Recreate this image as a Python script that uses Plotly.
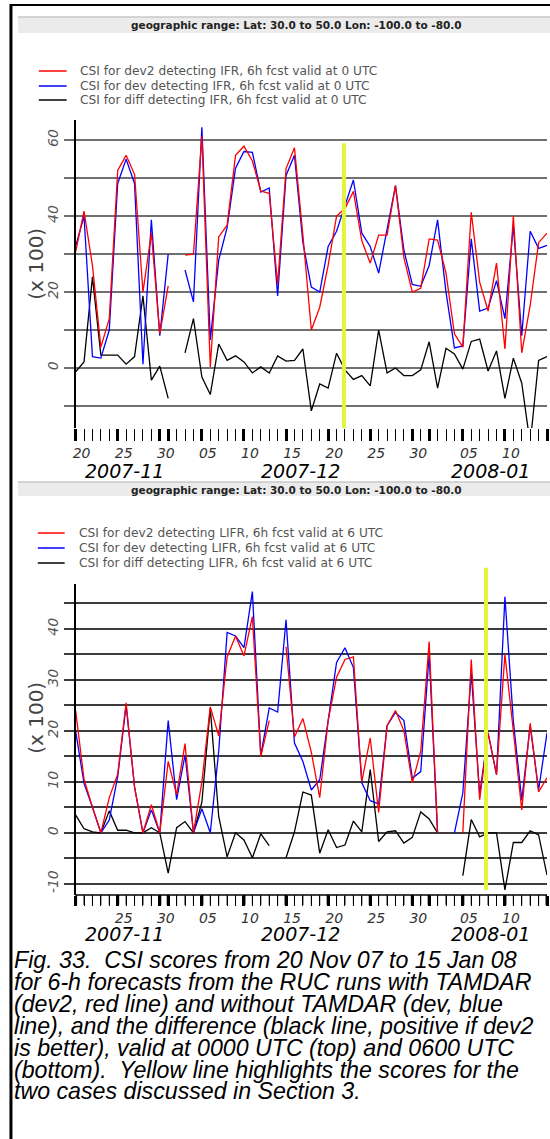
import pandas as pd
import plotly.graph_objects as go

W, H = 550, 1139

# daily scores, 20 Nov 2007 .. 15 Jan 2008
dates = pd.date_range("2007-11-20", "2008-01-15", freq="D")

# top panel: IFR, 6h fcst valid at 0 UTC (CSI x 100)
ifr_dev2 = [30.5, 41.3, 27, 5.5, 13, 52, 56, 51, 20, 35.5, 9, 21.6, None, 29.7, 30,
            61, 0.3, 34.5, 37.6, 56, 58.4, 54.5, 46.6, 46, 22, 52.5, 58, 35, 10, 16,
            27, 40, 42, 46.5, 33.5, 27.6, 35, 35, 48, 29, 20, 21, 34, 33.7, 25,
            9, 5.5, 41, 22.6, 15, 27.6, 5, 40, 4, 16.5, 33, 35.5]
ifr_dev = [32, 40, 3, 2.6, 10, 48.6, 55, 48.6, 1, 39, 8.5, 30, None, 25.8, 17.4,
           63.4, 7.4, 28.4, 37, 52.6, 57, 56.8, 46.3, 47.4, 19, 50.7, 56, 33, 21.3, 20,
           32, 36, 42.5, 49.5, 35.5, 32, 25, 36.3, 48, 31, 22, 21.5, 27, 39, 20,
           5.3, 5.8, 34, 15, 15.8, 23, 13, 37.5, 8.5, 36, 31.5, 32.3]
ifr_diff = [-1, 1.6, 24, 3.4, 3.4, 3.4, 1, 3, 19, -3.2, 0.5, -8, None, 4, 13,
            -2.4, -7, 6.3, 2, 3.2, 1.6, -1.3, 0.3, -1.3, 3.2, 1.8, 2, 5, -11.3, -4.2,
            -5.3, 3.9, -0.5, -3, -2, -4.7, 10, -1.3, 0, -2, -2, -0.5, 6.9, -5.3, 5.2,
            3.7, -0.3, 7, 7.6, -0.8, 4.5, -8, 2.6, -4, -20, 2, 3]

# bottom panel: LIFR, 6h fcst valid at 6 UTC (CSI x 100)
lifr_dev2 = [24, 10.5, 5, 0, 6.9, 11.5, 25.5, 9, 0, 5.5, 0, 14, 7.5, 17.5, 0,
             10, 24.7, 19, 34.5, 38.6, 34.7, 42.4, 15, 22, None, 36.5, 18.8, 22.4, 15.8, 6.9,
             22, 30.5, 34, 34.5, 10, 18.6, 4, 21, 24, 20, 9.8, 16, 37.5, 0, None,
             None, 0, 34, 6.5, 19.6, 11.4, 35, 20, 4.5, 21.5, 8, 10.8]
lifr_dev = [20, 9.7, 5, 0, 2.5, 11, 25, 9, 0, 4.5, 0, 22, 6.5, 15.3, 0,
            4.7, 0, 16, 39.3, 38.6, 36.3, 47.3, 15.2, 24.5, 23.7, 41.8, 17.6, 14, 8.4, 10.4,
            22, 33.4, 36.3, 32.4, 9.8, 6.3, 5.7, 21, 23.6, 22, 10.7, 12, 35, 0, None,
            0, 7.8, 31.4, 7.5, 19.6, 11.4, 46.3, 21.9, 6.4, 21, 8.4, 19.6]
lifr_diff = [3.5, 0.8, 0.2, 0, 4.3, 0.5, 0.5, 0, 0, 1, 0, -7.9, 1, 2.2, 0,
             6, 24.5, 3.2, -4.7, 0, -1.4, -4.9, -0.2, -2.5, None, -4.9, 0.2, 8, 7.4, -4,
             0.6, -2.9, -2.4, 2.3, 0.2, 12.4, -1.7, 0.2, 0.4, -2, -0.9, 4.1, 2.7, 0, None,
             None, -8.4, 2.6, -0.8, 0, 0, -11.2, -1.9, -1.9, 0.4, -0.4, -8.3]

# the two cases from Section 3 (yellow lines)
case_times = ["2007-12-21 21:00", "2008-01-07 18:00"]

tick_days = ["2007-11-20", "2007-11-25", "2007-11-30", "2007-12-01", "2007-12-05",
             "2007-12-10", "2007-12-15", "2007-12-20", "2007-12-25", "2007-12-30",
             "2008-01-01", "2008-01-05", "2008-01-10", "2008-01-15"]
tick_text_top = ["20", "25", "30", "", "05", "10", "15", "20", "25", "30", "", "05", "10", ""]
tick_text_bot = ["", "25", "30", "", "05", "10", "15", "20", "25", "30", "", "05", "10", ""]
month_labels = ["2007-11", "2007-12", "2008-01"]

legend_top = ["CSI for dev2 detecting IFR, 6h fcst valid at 0 UTC",
              "CSI for dev detecting IFR, 6h fcst valid at 0 UTC",
              "CSI for diff detecting IFR, 6h fcst valid at 0 UTC"]
legend_bot = ["CSI for dev2 detecting LIFR, 6h fcst valid at 6 UTC",
              "CSI for dev detecting LIFR, 6h fcst valid at 6 UTC",
              "CSI for diff detecting LIFR, 6h fcst valid at 6 UTC"]
colors = ["#ff0000", "#0000ff", "#000000"]

caption = ["Fig. 33.&nbsp; CSI scores from 20 Nov 07 to 15 Jan 08",
           "for 6-h forecasts from the RUC runs with TAMDAR",
           "(dev2, red line) and without TAMDAR (dev, blue",
           "line), and the difference (black line, positive if dev2",
           "is better), valid at 0000 UTC (top) and 0600 UTC",
           "(bottom).&nbsp; Yellow line highlights the scores for the",
           "two cases discussed in Section 3."]

header = "geographic range: Lat: 30.0 to 50.0 Lon: -100.0 to -80.0"

X_RANGE = ["2007-11-20", "2008-01-15"]
Y_TOP = [-15.8, 65.3]
Y_BOT = [-12.2, 48.8]
DAY_MS = 86400000


def px_x(x):
    return x / W


def px_y(y):
    return 1 - y / H


def note(text, x, y, size, color="black", family="DejaVu Sans", style="normal",
         xanchor="center", angle=0):
    return dict(text=text, xref="paper", yref="paper", x=px_x(x), y=px_y(y),
                xanchor=xanchor, yanchor="middle", showarrow=False, textangle=angle,
                font=dict(family=family, size=size, color=color, style=style))


def x_axis(anchor, ticktext, ticklen):
    return dict(
        domain=[px_x(73), px_x(547)], anchor=anchor, type="date", range=X_RANGE,
        tickvals=tick_days, ticktext=ticktext, ticks="outside", ticklen=ticklen,
        tickwidth=3, tickcolor="black", ticklabelshift=6,
        tickfont=dict(family="DejaVu Sans", size=14, color="#333", style="italic"),
        minor=dict(dtick=DAY_MS, tick0="2007-11-20", ticks="outside", ticklen=ticklen,
                   tickwidth=1, tickcolor="black", showgrid=False),
        showgrid=False, zeroline=False, showline=False,
    )


def y_axis(anchor, domain, rng, vals, labelled, gridcolor, gridwidth):
    return dict(
        domain=domain, anchor=anchor, range=rng, tickvals=vals,
        ticktext=[str(v) if v in labelled else "" for v in vals],
        ticks="outside", ticklen=10, tickcolor=gridcolor, tickwidth=gridwidth,
        tickangle=-90,
        tickfont=dict(family="DejaVu Sans", size=14, color="#555", style="italic"),
        showgrid=True, gridcolor=gridcolor, gridwidth=gridwidth, zeroline=False,
        showline=True, linecolor="black", linewidth=1.5,
    )


fig = go.Figure()

panels = [
    ("x", "y", [ifr_diff, ifr_dev, ifr_dev2]),
    ("x2", "y2", [lifr_diff, lifr_dev, lifr_dev2]),
]
for xa, ya, series in panels:
    for vals, col in zip(series, ["#000000", "#0000ff", "#ff0000"]):
        fig.add_trace(go.Scatter(
            x=dates, y=vals, mode="lines", xaxis=xa, yaxis=ya,
            line=dict(color=col, width=1.3), connectgaps=False,
            showlegend=False, hoverinfo="skip",
        ))

shapes = []
annotations = []

# frame border
shapes.append(dict(type="line", xref="paper", yref="paper", x0=px_x(8), x1=px_x(8),
                   y0=px_y(4), y1=0, line=dict(color="black", width=3)))
shapes.append(dict(type="line", xref="paper", yref="paper", x0=px_x(7), x1=1,
                   y0=px_y(5), y1=px_y(5), line=dict(color="black", width=2)))

# bottom panel has a base line along its x axis, with a day-tick comb under it
shapes.append(dict(type="line", xref="x2 domain", yref="y2 domain", x0=0, x1=1,
                   y0=0, y1=0, line=dict(color="black", width=1.5)))
major_days = set(pd.to_datetime(tick_days))
comb_len = 10 / (895 - 584)
for d in dates:
    shapes.append(dict(type="line", xref="x2", yref="y2 domain", x0=d, x1=d,
                       y0=0, y1=-comb_len,
                       line=dict(color="black", width=3 if d in major_days else 1)))

# header bars
for top, bot, ty in [(17, 33, 25), (482, 496, 490)]:
    shapes.append(dict(type="rect", xref="paper", yref="paper", x0=px_x(15), x1=1,
                       y0=px_y(bot), y1=px_y(top), fillcolor="#ebebeb",
                       line=dict(width=0), layer="below"))
    shapes.append(dict(type="line", xref="paper", yref="paper", x0=px_x(15), x1=1,
                       y0=px_y(top), y1=px_y(top), line=dict(color="#c8c8c8", width=1.5)))
    annotations.append(note("<b>" + header + "</b>", 295, ty, 10.5, color="#222"))

# legends
for labels, rows, x0, x1, xt in [(legend_top, [71, 86, 100], 36, 64, 75),
                                 (legend_bot, [533, 548, 563], 35, 62, 74)]:
    for lab, row, col in zip(labels, rows, colors):
        shapes.append(dict(type="line", xref="paper", yref="paper", x0=px_x(x0), x1=px_x(x1),
                           y0=px_y(row), y1=px_y(row), line=dict(color=col, width=1.5)))
        annotations.append(note(lab, xt, row, 12.2, color="#555", xanchor="left"))

# y titles
for yc in [264, 718]:
    annotations.append(note("(x 100)", 33, yc, 20, color="#444", angle=-90))

# month labels
for yc in [471, 934]:
    for lab, xc in zip(month_labels, [122, 299, 490]):
        annotations.append(note(lab, xc, yc, 19, style="italic"))

# yellow case lines
start, end = pd.Timestamp(X_RANGE[0]), pd.Timestamp(X_RANGE[1])
for (xa, ya, rng, top_val, bot_val), t in zip(
        [("x", "y", Y_TOP, 59.2, Y_TOP[0]), ("x2", "y2", Y_BOT, 52.0, -11.2)], case_times):
    fx = (pd.Timestamp(t) - start) / (end - start)
    shapes.append(dict(type="line", xref=xa + " domain", yref=ya + " domain",
                       x0=fx, x1=fx,
                       y0=(bot_val - rng[0]) / (rng[1] - rng[0]),
                       y1=(top_val - rng[0]) / (rng[1] - rng[0]),
                       line=dict(color="#e3f43a", width=4)))

# caption
for i, line in enumerate(caption):
    annotations.append(note(line, 9, 960 + 21.9 * i, 23.2, family="Liberation Sans",
                            style="italic", xanchor="left"))

fig.update_layout(
    width=W, height=H,
    margin=dict(l=0, r=0, t=0, b=0),
    paper_bgcolor="white", plot_bgcolor="white",
    showlegend=False,
    xaxis=x_axis("y", tick_text_top, 12),
    yaxis=y_axis("x", [px_y(428), px_y(120)], Y_TOP, list(range(-10, 61, 10)),
                 [0, 20, 40, 60], "#707070", 2),
    xaxis2=x_axis("y2", tick_text_bot, 10),
    yaxis2=y_axis("x2", [px_y(895), px_y(584)], Y_BOT, list(range(-10, 46, 5)),
                  [-10, 0, 10, 20, 30, 40], "#3c3c3c", 1.5),
    shapes=shapes,
    annotations=annotations,
)

fig.write_html("out.html", config={"displayModeBar": False},
               post_script="document.body.style.margin = '0';")
